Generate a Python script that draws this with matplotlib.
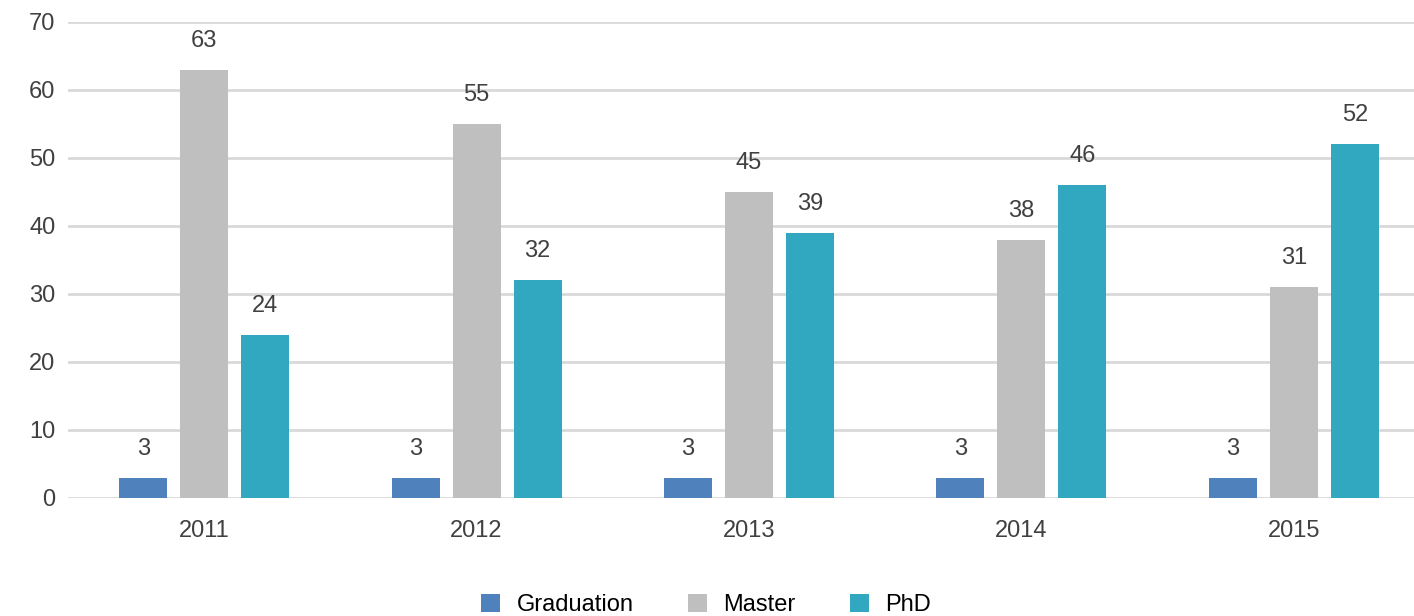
import numpy as np
import matplotlib.pyplot as plt

years = ["2011", "2012", "2013", "2014", "2015"]
graduation = [3, 3, 3, 3, 3]
master = [63, 55, 45, 38, 31]
phd = [24, 32, 39, 46, 52]

series_names = ["Graduation", "Master", "PhD"]
colors = ["#4F81BD", "#BFBFBF", "#31A8C0"]

plt.rcParams["font.family"] = ["Liberation Sans", "DejaVu Sans"]
text_color = "#404040"

fig = plt.figure(figsize=(14.14, 6.16), dpi=100, facecolor="white")
ax = fig.add_axes([68 / 1414, 1 - 498 / 616, (1414 - 68) / 1414, (498 - 22) / 616])

x = np.arange(len(years))
offset = 61 / 272.5
width = 48 / 272.5

for i, (vals, name, col) in enumerate(zip([graduation, master, phd], series_names, colors)):
    pos = x + (i - 1) * offset
    bars = ax.bar(pos, vals, width=width, color=col, label=name, zorder=3)
    for b, v in zip(bars, vals):
        ax.annotate(str(v), (b.get_x() + b.get_width() / 2, v),
                    xytext=(0, 13), textcoords="offset points",
                    ha="center", va="bottom", fontsize=17, color=text_color)

ax.set_xlim(-0.5, 4.5 - 16 / 272.5)
ax.set_ylim(0, 70)
ax.set_yticks(range(0, 71, 10))
ax.set_xticks(x)
ax.set_xticklabels(years)
ax.grid(axis="y", color="#D9D9D9", linewidth=2, zorder=0)
for s in ax.spines.values():
    s.set_visible(False)
ax.tick_params(axis="both", length=0, labelsize=17, labelcolor=text_color)
ax.tick_params(axis="x", pad=16)
ax.tick_params(axis="y", pad=9)

ax.legend(loc="center", bbox_to_anchor=(0.474, -0.225), ncol=3,
          frameon=False, fontsize=17, handlelength=0.8, handleheight=0.8,
          handletextpad=0.7, columnspacing=2.3)

fig.savefig("out.png", dpi=100, facecolor="white")
